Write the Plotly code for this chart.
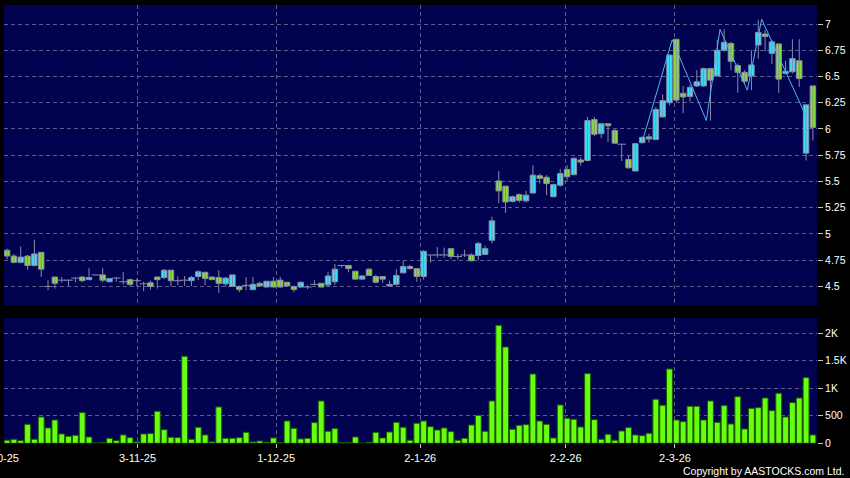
import plotly.graph_objects as go

# ---------------- data ----------------
opens = [4.845, 4.79, 4.73, 4.79, 4.70, 4.825, 4.50, 4.59, 4.56, 4.56,
         4.58, 4.59, 4.565, 4.61, 4.61, 4.545, 4.58, 4.545, 4.565, 4.555,
         4.525, 4.535, 4.59, 4.585, 4.655, 4.555, 4.56, 4.555, 4.595, 4.635,
         4.59, 4.585, 4.525, 4.50, 4.50, 4.51, 4.47, 4.53, 4.495, 4.55,
         4.56, 4.54, 4.50, 4.495, 4.495, 4.52, 4.53, 4.515, 4.545, 4.70,
         4.70, 4.645, 4.57, 4.665, 4.595, 4.595, 4.505, 4.52, 4.63, 4.69,
         4.67, 4.595, 4.80, 4.80, 4.80, 4.86, 4.785, 4.80, 4.80, 4.795,
         4.805, 4.94, 5.505, 5.455, 5.31, 5.375, 5.315, 5.39, 5.555, 5.54,
         5.355, 5.465, 5.615, 5.565, 5.705, 5.70, 6.09, 5.955, 6.05, 5.985,
         5.855, 5.71, 5.60, 5.87, 5.925, 5.90, 6.115, 6.25, 6.855, 6.34,
         6.31, 6.41, 6.41, 6.575, 6.505, 6.75, 6.815, 6.605, 6.54, 6.505,
         6.80, 6.905, 6.72, 6.81, 6.53, 6.545, 6.65, 5.77, 6.41]
highs = [4.86, 4.81, 4.88, 4.80, 4.945, 4.825, 4.56, 4.59, 4.59, 4.565,
         4.585, 4.60, 4.675, 4.61, 4.675, 4.58, 4.59, 4.64, 4.575, 4.575,
         4.545, 4.555, 4.59, 4.665, 4.655, 4.595, 4.60, 4.60, 4.655, 4.64,
         4.595, 4.655, 4.59, 4.61, 4.51, 4.59, 4.59, 4.545, 4.55, 4.59,
         4.59, 4.545, 4.51, 4.545, 4.51, 4.56, 4.535, 4.64, 4.715, 4.705,
         4.70, 4.65, 4.61, 4.67, 4.61, 4.60, 4.555, 4.665, 4.745, 4.705,
         4.67, 4.845, 4.80, 4.875, 4.87, 4.865, 4.81, 4.85, 4.815, 4.925,
         4.89, 5.165, 5.60, 5.46, 5.365, 5.385, 5.41, 5.655, 5.575, 5.56,
         5.48, 5.62, 5.655, 5.73, 5.73, 6.115, 6.115, 6.05, 6.05, 6.00,
         5.86, 5.75, 5.865, 5.93, 5.955, 6.21, 6.33, 6.705, 6.855, 6.41,
         6.42, 6.56, 6.585, 6.585, 6.85, 6.95, 6.83, 6.625, 6.56, 6.75,
         7.04, 6.94, 6.845, 6.815, 6.65, 6.855, 6.855, 6.23, 6.41]
lows = [4.76, 4.72, 4.72, 4.66, 4.69, 4.59, 4.465, 4.48, 4.535, 4.505,
        4.54, 4.54, 4.56, 4.605, 4.54, 4.54, 4.545, 4.52, 4.50, 4.50,
        4.455, 4.47, 4.48, 4.57, 4.50, 4.51, 4.505, 4.505, 4.56, 4.51,
        4.56, 4.44, 4.50, 4.495, 4.445, 4.465, 4.465, 4.495, 4.49, 4.49,
        4.49, 4.50, 4.445, 4.485, 4.475, 4.51, 4.49, 4.50, 4.515, 4.68,
        4.635, 4.565, 4.565, 4.60, 4.53, 4.535, 4.50, 4.51, 4.625, 4.66,
        4.545, 4.565, 4.725, 4.775, 4.775, 4.76, 4.755, 4.78, 4.74, 4.75,
        4.80, 4.91, 5.295, 5.20, 5.30, 5.30, 5.30, 5.385, 5.48, 5.37,
        5.35, 5.45, 5.51, 5.56, 5.65, 5.69, 5.93, 5.915, 5.875, 5.855,
        5.695, 5.625, 5.595, 5.86, 5.87, 5.895, 6.11, 6.225, 6.255, 6.15,
        6.26, 6.40, 6.40, 6.08, 6.50, 6.735, 6.56, 6.345, 6.43, 6.37,
        6.67, 6.74, 6.62, 6.345, 6.52, 6.53, 6.40, 5.70, 5.89]
closes = [4.79, 4.73, 4.78, 4.70, 4.81, 4.665, 4.50, 4.53, 4.56, 4.56,
          4.58, 4.555, 4.585, 4.61, 4.56, 4.575, 4.58, 4.545, 4.52, 4.555,
          4.525, 4.50, 4.565, 4.655, 4.555, 4.555, 4.56, 4.585, 4.64, 4.575,
          4.565, 4.53, 4.58, 4.61, 4.47, 4.51, 4.52, 4.505, 4.55, 4.495,
          4.495, 4.505, 4.47, 4.54, 4.495, 4.52, 4.495, 4.60, 4.665, 4.70,
          4.67, 4.57, 4.60, 4.605, 4.54, 4.57, 4.52, 4.605, 4.69, 4.67,
          4.595, 4.835, 4.80, 4.80, 4.80, 4.785, 4.785, 4.80, 4.745, 4.91,
          4.86, 5.125, 5.41, 5.305, 5.355, 5.32, 5.37, 5.56, 5.53, 5.48,
          5.47, 5.575, 5.545, 5.72, 5.685, 6.08, 5.95, 6.05, 6.03, 5.865,
          5.855, 5.63, 5.86, 5.92, 5.905, 6.185, 6.27, 6.705, 6.275, 6.305,
          6.395, 6.45, 6.575, 6.465, 6.75, 6.825, 6.645, 6.54, 6.455, 6.61,
          6.92, 6.88, 6.83, 6.475, 6.55, 6.67, 6.48, 6.23, 6.015]
volumes = [55, 73, 48, 345, 73, 479, 279, 424, 170, 127,
           145, 558, 115, 5, 15, 91, 48, 152, 103, 24,
           170, 176, 582, 248, 109, 103, 1582, 73, 291, 152,
           24, 661, 91, 91, 103, 200, 24, 42, 18, 97,
           8, 406, 273, 79, 91, 376, 770, 218, 267, 12,
           12, 115, 3, 18, 200, 97, 206, 382, 291, 55,
           364, 406, 303, 242, 279, 212, 55, 91, 333, 509,
           218, 770, 2145, 1751, 255, 327, 339, 1260, 406, 345,
           97, 697, 455, 436, 297, 1267, 430, 73, 164, 55,
           224, 285, 152, 139, 182, 800, 691, 1351, 424, 394,
           673, 673, 424, 770, 382, 685, 351, 848, 261, 636,
           648, 824, 594, 909, 479, 739, 824, 1194, 152]

# zigzag indicator (bar position, price)
zz_x = [93.2, 97.4, 102.4, 104.4, 108.4, 110.5, 117.0]
zz_y = [5.92, 6.85, 6.08, 6.95, 6.37, 7.045, 6.12]

date_pos = [-1.1, 19.1, 39.4, 60.5, 81.8, 97.8]
date_labels = ["2-10-25", "3-11-25", "1-12-25", "2-1-26", "2-2-26", "2-3-26"]
price_ticks = [4.5, 4.75, 5.0, 5.25, 5.5, 5.75, 6.0, 6.25, 6.5, 6.75, 7.0]
price_labels = ["4.5", "4.75", "5", "5.25", "5.5", "5.75", "6", "6.25", "6.5", "6.75", "7"]
vol_ticks = [0, 500, 1000, 1500, 2000]
vol_labels = ["0", "500", "1K", "1.5K", "2K"]

# ---------------- styling ----------------
BG = "#020350"
GRID = "#5c5c8e"
CYAN = "#33e4ff"
GREEN = "#86e22e"
OUTLINE = "#8a8aa6"
VOLG = "#66ff12"
FONT = "Liberation Sans"
BODY_W = 0.8

X_RANGE = [-0.45, 118.6]
X_DOM = [4 / 850, 817 / 850]

fig = go.Figure()
idx = list(range(len(opens)))

# wicks
wx, wy = [], []
for i in idx:
    wx += [i, i, None]
    wy += [lows[i], highs[i], None]
fig.add_trace(go.Scatter(x=wx, y=wy, mode="lines", line=dict(color=OUTLINE, width=1),
                         xaxis="x", yaxis="y", hoverinfo="skip"))

# bodies
for sel, col in [([i for i in idx if closes[i] > opens[i]], CYAN),
                 ([i for i in idx if closes[i] < opens[i]], GREEN)]:
    fig.add_trace(go.Bar(
        x=sel,
        base=[min(opens[i], closes[i]) for i in sel],
        y=[abs(closes[i] - opens[i]) for i in sel],
        width=BODY_W,
        marker=dict(color=col, line=dict(color=OUTLINE, width=1)),
        xaxis="x", yaxis="y", hoverinfo="skip",
    ))

# doji (open == close)
doji = [i for i in idx if closes[i] == opens[i]]
fig.add_trace(go.Scatter(
    x=doji, y=[closes[i] for i in doji], mode="markers",
    marker=dict(symbol="line-ew", size=6, line=dict(color=OUTLINE, width=1)),
    xaxis="x", yaxis="y", hoverinfo="skip",
))

# zigzag
fig.add_trace(go.Scatter(
    x=zz_x, y=zz_y, mode="lines",
    line=dict(color="#4fb4f0", width=1),
    xaxis="x", yaxis="y", hoverinfo="skip",
))

# volume
fig.add_trace(go.Bar(
    x=idx, y=volumes, width=0.86,
    marker=dict(color=VOLG, line=dict(color="#1f5a00", width=1)),
    xaxis="x2", yaxis="y2", hoverinfo="skip",
))

grid_common = dict(showgrid=True, gridcolor=GRID, griddash="4px,3px", gridwidth=1,
                   zeroline=False, showline=False, automargin=False)
tickfont_y = dict(color="white", size=10.5, family=FONT)

fig.update_layout(
    width=850, height=478, autosize=False,
    paper_bgcolor="black", plot_bgcolor=BG,
    margin=dict(l=0, r=0, t=0, b=0, pad=0),
    showlegend=False,
    barmode="overlay",
    xaxis=dict(domain=X_DOM, range=X_RANGE, anchor="y",
               tickmode="array", tickvals=date_pos, showticklabels=False, ticks="",
               **grid_common),
    yaxis=dict(domain=[1 - 306 / 478, 1 - 5 / 478], range=[4.314, 7.181],
               anchor="x", side="right",
               tickmode="array", tickvals=price_ticks, ticktext=price_labels,
               ticks="outside", ticklen=5, tickcolor="#c8c8c8", tickwidth=1,
               tickfont=tickfont_y, **grid_common),
    xaxis2=dict(domain=X_DOM, range=X_RANGE, anchor="y2",
                tickmode="array", tickvals=date_pos, ticktext=date_labels,
                ticks="outside", ticklen=4, tickcolor="#c8c8c8",
                tickfont=dict(color="white", size=11, family=FONT),
                **grid_common),
    yaxis2=dict(domain=[1 - 443.3 / 478, 1 - 318 / 478], range=[0, 2278],
                anchor="x2", side="right",
                tickmode="array", tickvals=vol_ticks, ticktext=vol_labels,
                ticks="outside", ticklen=5, tickcolor="#c8c8c8", tickwidth=1,
                tickfont=tickfont_y, **grid_common),
)

# first date label lies left of the visible range: place it via the axis scale
def idx_to_paper(v):
    return X_DOM[0] + (v - X_RANGE[0]) / (X_RANGE[1] - X_RANGE[0]) * (X_DOM[1] - X_DOM[0])

fig.add_annotation(x=idx_to_paper(date_pos[0]), y=1 - 457.5 / 478, xref="paper", yref="paper",
                   text=date_labels[0], showarrow=False, xanchor="center", yanchor="middle",
                   font=dict(color="white", size=11, family=FONT))

fig.add_annotation(x=846 / 850, y=1 - 471 / 478, xref="paper", yref="paper",
                   text="Copyright by AASTOCKS.com Ltd.", showarrow=False,
                   xanchor="right", yanchor="middle",
                   font=dict(color="white", size=10.5, family=FONT))

fig.write_html("out.html",
               config={"displayModeBar": False, "responsive": False},
               post_script="document.body.style.margin='0';document.body.style.overflow='hidden';")
